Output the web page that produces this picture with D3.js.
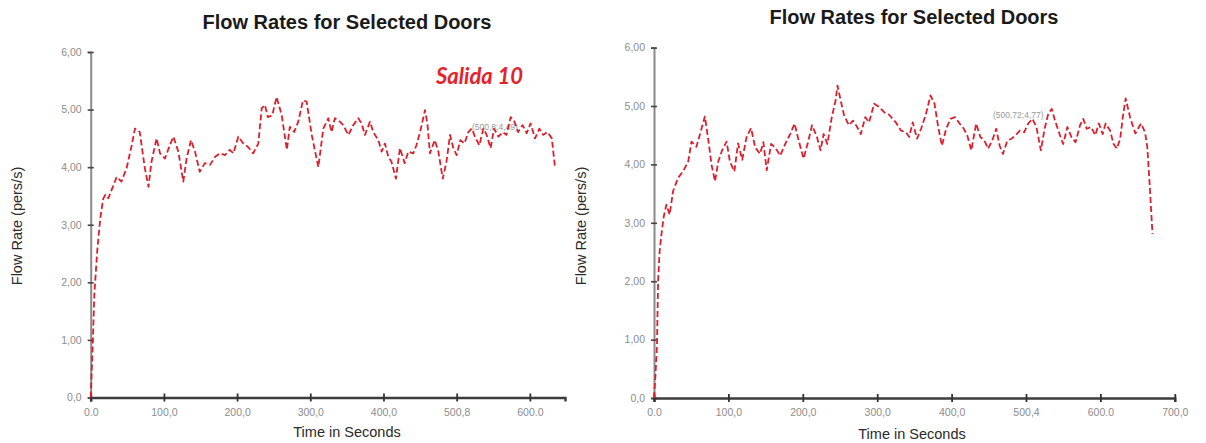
<!DOCTYPE html>
<html><head><meta charset="utf-8">
<script src="https://cdn.jsdelivr.net/npm/d3@7"></script>
<style>
html,body{margin:0;padding:0;background:#fff;}
svg{display:block;}
</style></head>
<body>
<svg id="chart" width="1206" height="443"></svg>
<script>
// ---------- DATA ----------
const chartTitle = "Flow Rates for Selected Doors";
const xAxisTitle = "Time in Seconds";
const yAxisTitle = "Flow Rate (pers/s)";
const yTickValues = [0, 1, 2, 3, 4, 5, 6];
const yTickLabels = ["0,0", "1,00", "2,00", "3,00", "4,00", "5,00", "6,00"];
const xTickValuesLeft = [0, 100, 200, 300, 400, 500, 600];
const xTickLabelsLeft = ["0.0", "100,0", "200,0", "300,0", "400,0", "500,8", "600.0"];
const xTickValuesRight = [0, 100, 200, 300, 400, 500, 600, 700];
const xTickLabelsRight = ["0.0", "100,0", "200,0", "300,0", "400,0", "500,4", "600.0", "700,0"];
const leftLabel = "Salida 10";
const leftNote = "(500,8;4,49)";
const rightNote = "(500,72;4,77)";

const timeLeft = [0,3,5,9,13,17,20,24,30,35.5,42,49,56,60.5,67,74,79,83,90,94.7,
  101.5,108,113,119.7,126.5,131,137,142.5,149,156,163,170,176.6,183.5,190,195,201.6,208.5,215,222,
  229,233.6,238,242,248,254,261,268,272,278,283.6,290,295,302,311,317.8,324.6,329,333.6,340.6,
  345,352,358.7,365.6,370,374.7,381.6,386,393,397.5,402,406.6,411,417,422.5,429,434,440.7,445,450,
  456.7,460,463.5,470,475,481,486,491,495.5,500,505,510.6,516,520.5,525,531,536.5,541,546.4,551,
  557,563,568,573.8,578,584,590,595.6,601,607,613,618,624,630,634.3];
const rateLeft = [0,1.0,1.8,2.56,3.1,3.45,3.52,3.46,3.65,3.83,3.75,3.98,4.38,4.67,4.61,3.98,3.66,4.09,4.5,4.24,
  4.15,4.38,4.53,4.27,3.75,4.15,4.47,4.27,3.92,4.07,4.04,4.18,4.24,4.21,4.3,4.24,4.53,4.41,4.35,4.24,
  4.41,5.02,5.08,4.87,4.9,5.22,4.9,4.3,4.7,4.61,4.79,5.16,5.14,4.56,4.0,4.67,4.85,4.61,4.85,4.79,
  4.73,4.56,4.73,4.85,4.76,4.56,4.79,4.61,4.47,4.27,4.41,4.18,4.09,3.8,4.33,4.07,4.27,4.24,4.38,4.61,
  4.99,4.76,4.24,4.47,4.27,3.8,4.09,4.56,4.33,4.21,4.47,4.41,4.61,4.67,4.53,4.38,4.67,4.56,4.33,4.67,
  4.53,4.61,4.56,4.87,4.82,4.61,4.73,4.59,4.76,4.5,4.67,4.56,4.61,4.5,4.0];

const timeRight = [0,2,4,5.5,7.5,10,13,16.6,21,25.6,32.4,39,46,50.4,57,64,68.4,73,77.4,82,
  86.4,91.8,97.6,102,108,113,118.6,124.6,130.5,136,142.6,147,151.5,157.4,163,169.6,176.4,183,189,194.4,
  201,207,212.4,219,223.8,228,233,239,244,246.6,251,255.5,262,267.6,273,278,284,289,296,303,
  309.6,316,325,332,338.7,343,347.7,353.6,359,365.7,371.6,377,382,387,392.7,398.5,404.6,410.7,415,421,
  426.5,433,438.6,444,449,454.7,460,464.6,469,475,480.4,486,491.7,497.5,503,508.6,514,520,525,530,
  534.6,539,545,550,555.6,561,566.6,572.6,577,581.6,587.5,593,598,603,607,613,617.7,622.2,626.6,630,
  634,640,647,654.6,660,663,666,670];
const rateRight = [0,0.4,0.9,2.0,2.5,2.8,3.1,3.31,3.14,3.54,3.77,3.88,4.05,4.39,4.3,4.62,4.82,4.42,3.99,3.71,
  4.05,4.25,4.39,4.05,3.88,4.36,4.08,4.48,4.62,4.29,4.18,4.38,3.9,4.35,4.29,4.15,4.35,4.52,4.7,4.41,
  4.1,4.38,4.67,4.47,4.24,4.52,4.35,4.81,5.09,5.35,5.09,4.84,4.67,4.75,4.64,4.52,4.81,4.72,5.04,4.98,
  4.89,4.85,4.72,4.58,4.55,4.47,4.72,4.44,4.61,4.87,5.18,5.04,4.64,4.32,4.61,4.78,4.81,4.7,4.64,4.5,
  4.24,4.7,4.47,4.41,4.27,4.41,4.61,4.32,4.18,4.41,4.44,4.5,4.58,4.55,4.7,4.78,4.64,4.24,4.61,4.87,
  4.95,4.75,4.52,4.35,4.64,4.47,4.38,4.67,4.78,4.61,4.64,4.5,4.7,4.52,4.7,4.58,4.35,4.27,4.44,4.8,
  5.13,4.8,4.53,4.7,4.55,4.3,3.7,2.81];

// ---------- DRAW ----------
const svg = d3.select("#chart");
const RED = "#dc1f2c";

function drawPanel(cfg) {
  const g = svg.append("g");
  const x = d3.scaleLinear().domain([0, cfg.xMax]).range([cfg.x0, cfg.x1]);
  const y = d3.scaleLinear().domain([0, 6]).range([cfg.y0, cfg.y1]);

  // title
  g.append("text").attr("x", cfg.titleX).attr("y", cfg.titleY)
    .attr("text-anchor", "middle")
    .attr("font-family", "Liberation Sans, Arial, sans-serif")
    .attr("font-weight", "bold").attr("font-size", 20).attr("fill", "#1a1a1a")
    .text(chartTitle);

  // y axis
  const yAx = g.append("g").attr("transform", `translate(${cfg.x0},0)`)
    .call(d3.axisLeft(y).tickValues(yTickValues)
      .tickFormat((d, i) => yTickLabels[i]).tickSizeOuter(0).tickSize(3).tickPadding(6));
  yAx.select(".domain").attr("stroke", "#8a8a8a").attr("stroke-width", 2);
  yAx.selectAll(".tick line").attr("x1", -3).attr("x2", 3).attr("stroke", "#444").attr("stroke-width", 1.6);
  yAx.selectAll(".tick text").attr("fill", "#8c8c8c")
    .attr("font-family", "Liberation Sans, Arial, sans-serif").attr("font-size", 10.5);

  // x axis
  const xAx = g.append("g").attr("transform", `translate(0,${cfg.y0})`)
    .call(d3.axisBottom(x).tickValues(cfg.xTicks)
      .tickFormat((d, i) => cfg.xLabels[i]).tickSizeOuter(0).tickSize(4).tickPadding(7));
  xAx.select(".domain").attr("stroke", "#3c3c3c").attr("stroke-width", 2.4);
  xAx.selectAll(".tick line").attr("y1", -4).attr("y2", 4).attr("stroke", "#333").attr("stroke-width", 1.8);
  xAx.selectAll(".tick text").attr("fill", "#8c8c8c")
    .attr("font-family", "Liberation Sans, Arial, sans-serif").attr("font-size", 10.5);

  // axis titles
  g.append("text").attr("x", cfg.xTitleX).attr("y", cfg.xTitleY)
    .attr("text-anchor", "middle")
    .attr("font-family", "Liberation Sans, Arial, sans-serif").attr("font-size", 14.5)
    .attr("fill", "#2a2a2a").text(xAxisTitle);
  g.append("text")
    .attr("transform", `translate(${cfg.yTitleX},${cfg.yTitleY}) rotate(-90)`)
    .attr("text-anchor", "middle")
    .attr("font-family", "Liberation Sans, Arial, sans-serif").attr("font-size", 14.5)
    .attr("fill", "#2a2a2a").text(yAxisTitle);

  // note
  g.append("text").attr("x", cfg.noteX).attr("y", cfg.noteY)
    .attr("font-family", "Liberation Sans, Arial, sans-serif").attr("font-size", 8.5)
    .attr("fill", "#9a9a9a").text(cfg.note);

  // line
  const pts = cfg.t.map((d, i) => [d, cfg.v[i]]);
  const line = d3.line().x(d => x(d[0])).y(d => y(d[1]));
  g.append("path").datum(pts).attr("d", line)
    .attr("fill", "none").attr("stroke", RED).attr("stroke-width", 1.8)
    .attr("stroke-dasharray", "6,3").attr("stroke-linejoin", "round");
  return g;
}

drawPanel({
  x0: 90.7, x1: 565, xMax: 648, y0: 397.5, y1: 52,
  xTicks: xTickValuesLeft, xLabels: xTickLabelsLeft,
  titleX: 347, titleY: 29, xTitleX: 347, xTitleY: 437, yTitleX: 22, yTitleY: 226,
  note: leftNote, noteX: 472, noteY: 130,
  t: timeLeft, v: rateLeft
});
drawPanel({
  x0: 654, x1: 1174.8, xMax: 700, y0: 398, y1: 47.6,
  xTicks: xTickValuesRight, xLabels: xTickLabelsRight,
  titleX: 914, titleY: 24, xTitleX: 912, xTitleY: 439, yTitleX: 586, yTitleY: 226,
  note: rightNote, noteX: 993, noteY: 118,
  t: timeRight, v: rateRight
});

svg.append("text").attr("x", 436).attr("y", 84)
  .attr("font-family", "Lato, 'Open Sans', sans-serif")
  .attr("font-weight", "bold").attr("font-style", "italic")
  .attr("font-size", 22).attr("fill", "#e8202a").text(leftLabel);
</script>
</body></html>
